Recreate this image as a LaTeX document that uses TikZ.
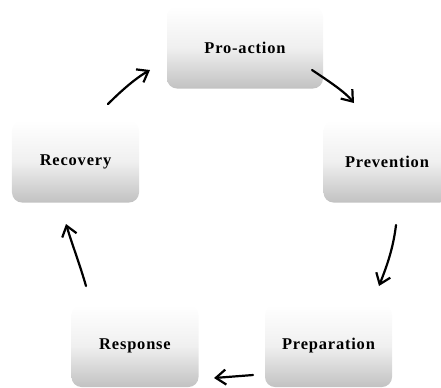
\documentclass[tikz,border=0pt]{standalone}
\usepackage{fontspec}
\setmainfont{Liberation Serif}
\usetikzlibrary{arrows.meta}
\begin{document}
\begin{tikzpicture}[x=1bp,y=-1bp,
  stagebox/.style={rounded corners=10bp, top color=white, bottom color=black!24,
    middle color=black!6, draw=none, minimum width=#1, minimum height=82bp,
    inner sep=0pt, font=\fontsize{16.5}{18}\selectfont\bfseries\addfontfeature{LetterSpace=5}},
  stagebox/.default=127bp,
  flow/.style={line width=2.2bp, line cap=round, -{Straight Barb[length=10bp,width=15bp,line width=2.2bp]}}]
\useasboundingbox (0,0) rectangle (441,387);
\node[stagebox=156bp] (pro) at (245,47.5) {Pro-action};
\node[stagebox] (prev) at (387,161.5) {Prevention};
\node[stagebox] (prep) at (328.5,346) {Preparation};
\node[stagebox] (resp) at (135,346) {Response};
\node[stagebox] (rec) at (75.5,161.5) {Recovery};
\coordinate (a1) at (312,70); \coordinate (b1) at (354,103);
\coordinate (a2) at (396,225); \coordinate (b2) at (379,286);
\coordinate (a3) at (253,375); \coordinate (b3) at (214,378);
\coordinate (a4) at (86,286); \coordinate (b4) at (66,224);
\coordinate (a5) at (108,104); \coordinate (b5) at (150,70);
\draw[flow] (a1) .. controls (330,82) and (345,92) .. (b1);
\draw[flow] (a2) .. controls (393,250) and (386,268) .. (b2);
\draw[flow] (a3) -- (b3);
\draw[flow] (a4) .. controls (80,265) and (72,244) .. (b4);
\draw[flow] (a5) .. controls (122,90) and (136,78) .. (b5);
\end{tikzpicture}
\end{document}
